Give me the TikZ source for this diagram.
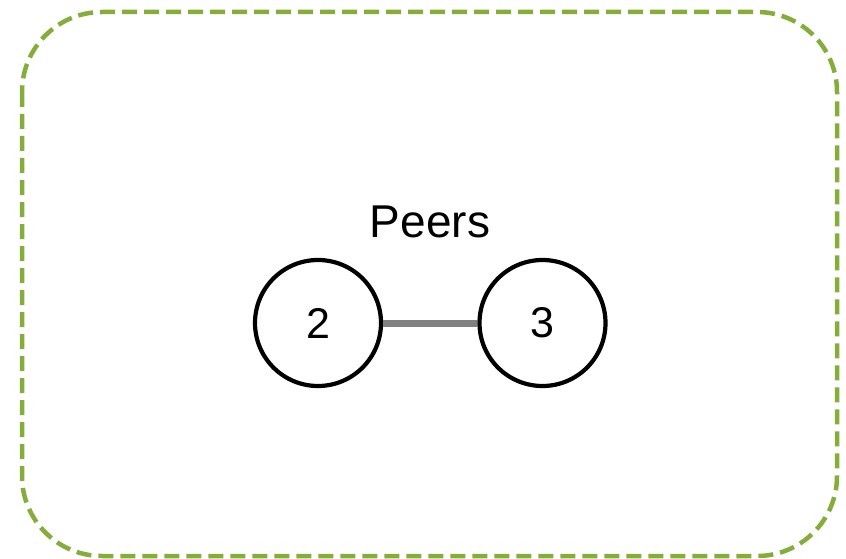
\documentclass[tikz,border=0pt]{standalone}
\usepackage{fontspec}
\setmainfont{Liberation Sans}
\begin{document}
\begin{tikzpicture}[x=1pt,y=-1pt,
  peer/.style={circle,draw=black,line width=4.2pt,minimum size=126pt,inner sep=0pt,font=\fontsize{43}{50}\selectfont},
  frame/.style={line width=4.5pt,dash pattern=on 15pt off 7pt,rounded corners=80pt},
  link/.style={line width=7pt}]
\definecolor{grn}{HTML}{85AD3A}
\definecolor{linkgray}{HTML}{808080}
\useasboundingbox (0,0) rectangle (846,559);
\draw[frame,draw=grn] (22,12) rectangle (837,556);
\node[peer] (n2) at (318,323) {2};
\node[peer] (n3) at (542.5,323) {3};
\node[font=\fontsize{46}{54}\selectfont] (lbl) at (430,222) {Peers};
\draw[link,draw=linkgray] (n2) -- (n3);
\end{tikzpicture}
\end{document}
